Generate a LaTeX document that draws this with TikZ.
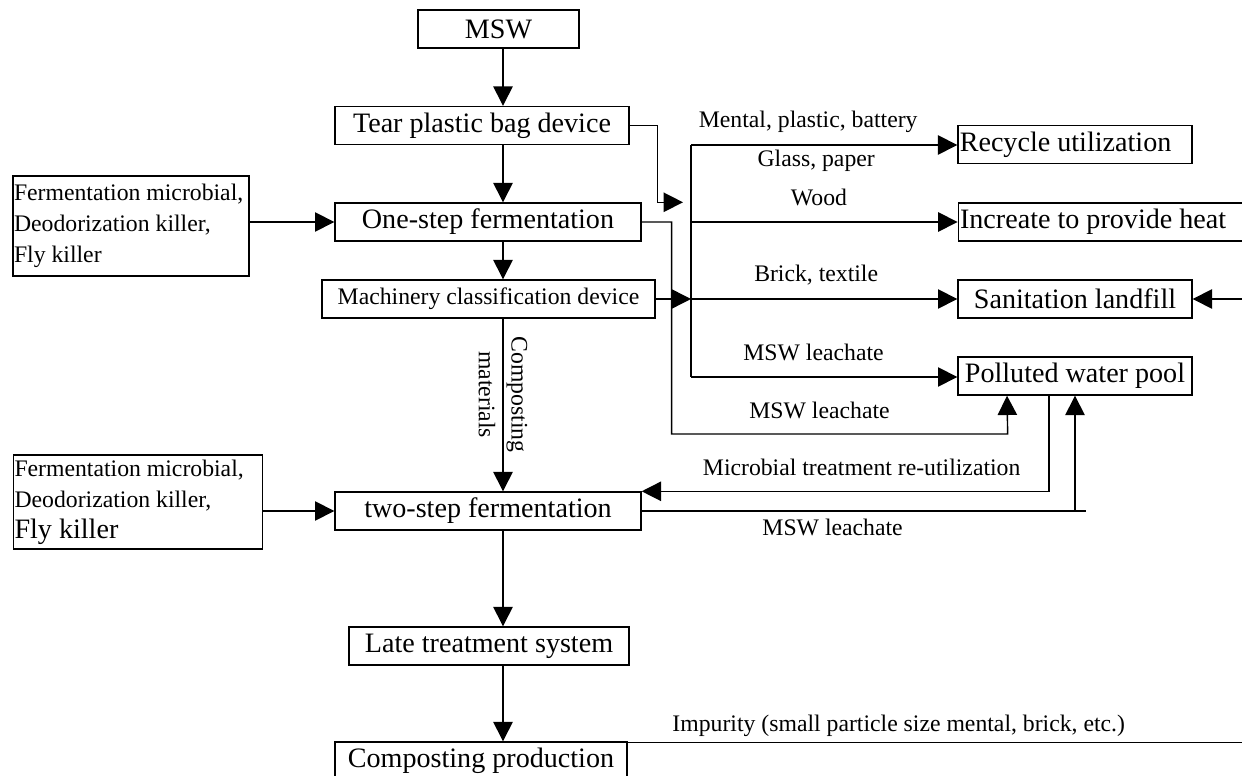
\documentclass[tikz,border=0pt]{standalone}
\usepackage{fontspec}
\setmainfont{Liberation Serif}
\usepackage{tikz}
\usetikzlibrary{arrows.meta,positioning,calc}
\tikzset{
  procbox/.style={
    rectangle, draw=black, line width=0.8pt, inner sep=1pt,
    minimum height=0.76cm, font=\fontsize{16}{19}\selectfont
  },
  addbox/.style={
    rectangle, draw=black, line width=0.8pt, inner xsep=0.5pt, inner ysep=1pt,
    align=flush left, font=\fontsize{13.5}{17.6}\selectfont
  },
  wire/.style={line width=0.8pt, color=black},
  flow/.style={wire, -{Triangle[length=11pt,width=11pt]}},
  lbl/.style={inner sep=0pt, font=\fontsize{13.5}{16}\selectfont}
}

\begin{document}
\begin{tikzpicture}[x=0.02cm, y=-0.02cm]
  \clip (0,0) rectangle (1242,776);
  \coordinate (spine) at (503,0);
  % main column
  \node[procbox, minimum width=3.22cm] (msw)  at (498.5,29)  {MSW};
  \node[procbox, minimum width=5.88cm] (tear) at (482,125.5) {Tear plastic bag device};
  \node[procbox, minimum width=6.12cm] (one)  at (488,222)   {One-step fermentation};
  \node[procbox, minimum width=6.66cm, font=\fontsize{13.5}{16}\selectfont]
                                       (mach) at (488.5,299) {Machinery classification device};
  \node[procbox, minimum width=6.12cm] (two)  at (488,511)   {two-step fermentation};
  \node[procbox, minimum width=5.6cm]  (late) at (489,646)   {Late treatment system};
  \node[procbox, minimum width=5.84cm] (prod) at (481,761)   {Composting production};
  % additives
  \node[addbox, text width=4.68cm, minimum height=2cm]  (addA) at (131,226)
        {Fermentation microbial,\\Deodorization killer,\\Fly killer};
  \node[addbox, text width=4.94cm, minimum height=1.88cm] (addB) at (138,502)
        {Fermentation microbial,\\Deodorization killer,\\{\fontsize{16}{19}\selectfont Fly killer}};
  % outlets
  \node[procbox, text width=4.61cm, align=flush left] (recy) at (1075,144.5) {Recycle utilization};
  \node[procbox, text width=5.96cm, align=flush left] (heat) at (1109,222)   {Increate to provide heat};
  \node[procbox, minimum width=4.68cm]                (land) at (1075,299)   {Sanitation landfill};
  \node[procbox, minimum width=4.68cm]                (pool) at (1075,376)   {Polluted water pool};
  \coordinate (btop) at (691,145);
  \coordinate (bbot) at (691,377);

  \draw[flow] (msw.south -| spine)  -- (tear.north -| spine);
  \draw[flow] (tear.south -| spine) -- (one.north -| spine);
  \draw[flow] (one.south -| spine)  -- (mach.north -| spine);
  \draw[flow] (mach.south -| spine) -- (two.north -| spine)
        node[lbl, pos=0.44, rotate=-90, align=center,
             font=\fontsize{13.5}{18.7}\selectfont] {Composting\\materials};
  \draw[flow] (two.south -| spine)  -- (late.north -| spine);
  \draw[flow] (late.south -| spine) -- (prod.north -| spine);
  \draw[flow] (addA.east |- one.west) -- (one.west);
  \draw[flow] (addB.east |- two.west) -- (two.west);

  % sorting bus
  \draw[flow] (tear.east) -- ++(28,0) |- ([xshift=-0.16cm]btop |- one.north);
  \draw[wire] (btop) -- (bbot);
  \draw[flow] (mach.east) -- (mach.east -| btop);
  \draw[flow] (btop) -- (btop -| recy.west)
        node[lbl, pos=0.44, yshift=0.46cm] {Mental, plastic, battery}
        node[lbl, pos=0.47, yshift=-0.32cm] {Glass, paper};
  \draw[flow] (btop |- heat.west) -- (heat.west)
        node[lbl, pos=0.48, yshift=0.5cm] {Wood};
  \draw[flow] (btop |- land.west) -- (land.west)
        node[lbl, pos=0.47, yshift=0.48cm] {Brick, textile};
  \draw[flow] (bbot) -- (bbot -| pool.west)
        node[lbl, pos=0.46, yshift=0.5cm] {MSW leachate};
  \draw[flow] ([xshift=1cm]land.east) -- (land.east);

  % leachate loops
  \draw[flow] (one.east) -- ++(30,0) -- ++(0,212) -- ++(336,0)
        node[lbl, pos=0.44, yshift=0.48cm] {MSW leachate}
        -- ([xshift=-1.36cm]pool.south);
  \draw[flow] ([xshift=-0.52cm]pool.south) |- (two.north east)
        node[lbl, pos=0.73, yshift=0.48cm] {Microbial treatment re-utilization};
  \draw[wire] (two.east) -- ++(444,0)
        node[lbl, pos=0.43, yshift=-0.32cm] {MSW leachate};
  \draw[flow] (pool.south |- two.east) -- (pool.south);

  \draw[wire] ([yshift=-0.02cm]prod.north east) -- ++(616,0)
        node[lbl, pos=0.44, yshift=0.32cm] {Impurity (small particle size mental, brick, etc.)};
\end{tikzpicture}
\end{document}
